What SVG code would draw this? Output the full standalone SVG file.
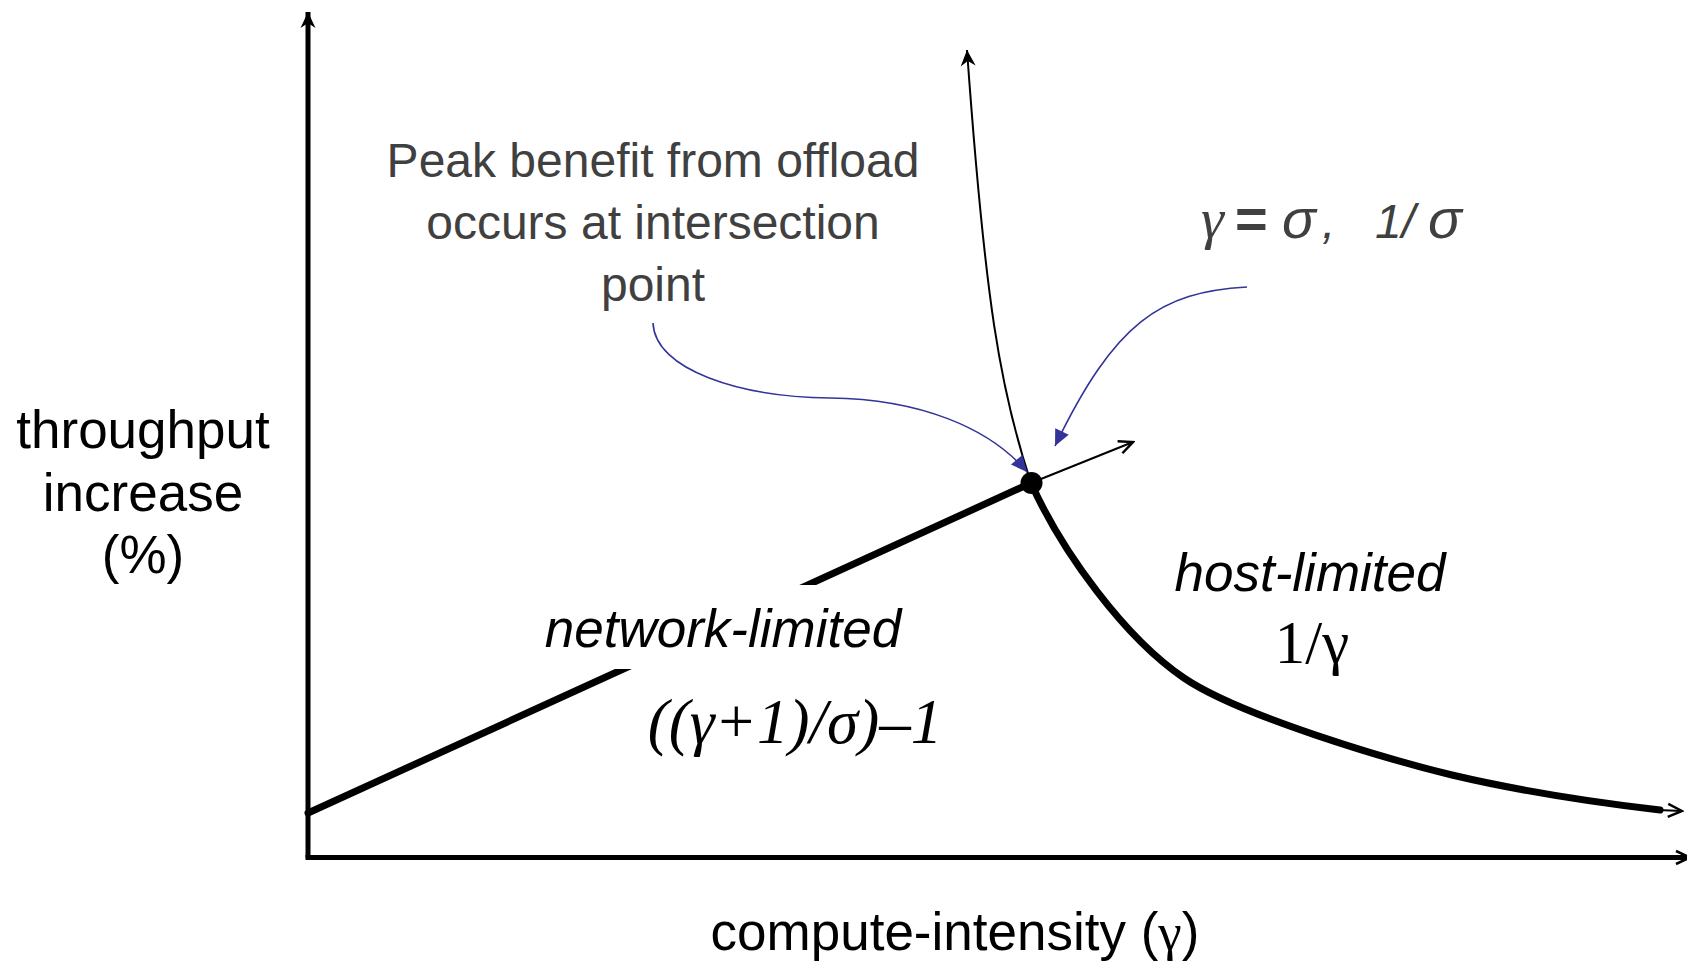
<svg xmlns="http://www.w3.org/2000/svg" width="1687" height="964" viewBox="0 0 1687 964">
  <style>
    .sans { font-family: "Liberation Sans", Arial, sans-serif; }
    .serif { font-family: "Liberation Serif", "Times New Roman", serif; }
    .lbl { fill: #000; font-size: 53px; text-anchor: middle; }
    .note { fill: #404040; font-size: 48px; text-anchor: middle; }
    .axis { stroke: #000; stroke-width: 5; fill: none; }
    .curve { stroke: #000; stroke-width: 7; fill: none; stroke-linecap: round; }
    .thin { stroke: #000; stroke-width: 2; fill: none; }
    .callout { stroke: #333399; stroke-width: 1.6; fill: none; }
  </style>
  <defs>
    <marker id="tri" markerUnits="userSpaceOnUse" viewBox="-18 -9 20 18" refX="0" refY="0" markerWidth="20" markerHeight="18" orient="auto">
      <path d="M0,0 L-16,-7.5 L-11,0 L-16,7.5 z" fill="#000"/>
    </marker>
    <marker id="vee" markerUnits="userSpaceOnUse" viewBox="-18 -10 20 20" refX="0" refY="0" markerWidth="20" markerHeight="20" orient="auto">
      <path d="M-14,-6.5 L0,0 L-14,6.5" fill="none" stroke="#000" stroke-width="2.5"/>
    </marker>
    <marker id="blueTri" markerUnits="userSpaceOnUse" viewBox="-18 -9 20 18" refX="0" refY="0" markerWidth="20" markerHeight="18" orient="auto">
      <path d="M0,0 L-16,-7.5 L-16,7.5 z" fill="#333399"/>
    </marker>
  </defs>

  <rect width="1687" height="964" fill="#fff"/>

  <g id="axes">
    <path class="axis" d="M308,857.5 L308,12" marker-end="url(#tri)"/>
    <path class="axis" d="M305.5,857.5 L1690,857.5" marker-end="url(#vee)"/>
  </g>

  <g id="connectors">
    <!-- network-limited line -->
    <path class="curve" d="M308,813 L1031,483" stroke-linecap="butt"/>
    <!-- host-limited curve -->
    <path class="curve" d="M1031,483 C1062,552 1125,638 1184,678 C1240,716 1390,760 1452,775 C1520,791 1600,803 1660,810" stroke-linecap="butt"/>
    <path class="thin" d="M1658,810 L1682,811" marker-end="url(#vee)"/>
    <!-- tangent arrows from the intersection -->
    <path class="thin" d="M1031,483 C1000,390 985,300 967,50" marker-end="url(#tri)"/>
    <path class="thin" d="M1031,483 L1133,442" marker-end="url(#vee)"/>
    <!-- callouts -->
    <path class="callout" d="M653,323 C655,370 740,397 830,398 C920,399 990,428 1027,472" marker-end="url(#blueTri)"/>
    <path class="callout" d="M1247,287 C1160,292 1115,322 1055,446" marker-end="url(#blueTri)"/>
  </g>

  <g id="intersection">
    <circle cx="1031.5" cy="483" r="11" fill="#000"/>
  </g>

  <g id="network-label">
    <rect x="540" y="585" width="372" height="84" fill="#fff"/>
    <text class="sans lbl" x="723" y="647" font-style="italic">network-limited</text>
    <text class="serif" x="795" y="743" font-size="63" font-style="italic" text-anchor="middle">((γ+1)/σ)–1</text>
  </g>

  <g id="host-label">
    <text class="sans lbl" x="1310" y="591" font-size="54" font-style="italic">host-limited</text>
    <text class="serif" x="1312" y="663" font-size="61" text-anchor="middle">1/γ</text>
  </g>

  <g id="peak-note">
    <text class="sans note" x="653" y="177">Peak benefit from offload</text>
    <text class="sans note" x="653" y="239">occurs at intersection</text>
    <text class="sans note" x="653" y="301">point</text>
  </g>

  <g id="sigma-note">
    <text class="sans" y="238" font-size="48" fill="#404040" font-style="italic"><tspan class="serif" x="1201" font-size="58">γ</tspan><tspan x="1235" font-size="56" font-weight="bold" font-style="normal">=</tspan><tspan x="1282" font-size="56">σ</tspan><tspan x="1322">,</tspan><tspan x="1375">1/</tspan><tspan x="1428" font-size="56">σ</tspan></text>
  </g>

  <g id="y-label">
    <text class="sans lbl" x="143" y="448">throughput</text>
    <text class="sans lbl" x="143" y="511">increase</text>
    <text class="sans lbl" x="143" y="573">(%)</text>
  </g>

  <g id="x-label">
    <text class="sans lbl" x="955" y="950">compute-intensity (<tspan class="serif">γ</tspan>)</text>
  </g>
</svg>
